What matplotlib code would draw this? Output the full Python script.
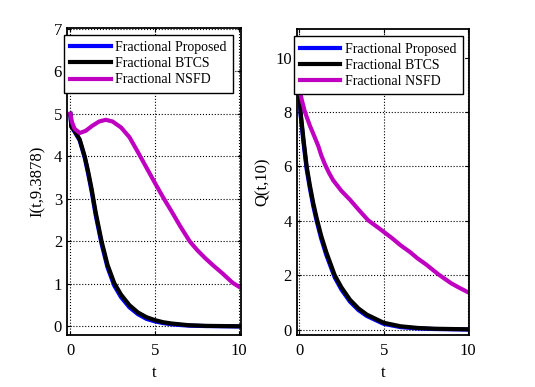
import matplotlib.pyplot as plt

# I(t, 9.3878) curves
t_I = [0, 0.06, 0.25, 0.55, 0.85, 1.05, 1.25, 1.5, 1.85, 2.2, 2.6, 3.0, 3.5,
       4.0, 4.5, 5, 5.5, 6, 7, 8, 9, 10]
I_blue = [5.0, 4.7, 4.58, 4.38, 3.97, 3.6, 3.2, 2.62, 1.94, 1.39, 0.96, 0.69,
          0.45, 0.29, 0.18, 0.12, 0.08, 0.05, 0.02, 0.01, 0.005, 0.0]
I_black = [5.0, 4.7, 4.6, 4.4, 4.0, 3.65, 3.25, 2.68, 2.0, 1.45, 1.02, 0.75,
           0.5, 0.33, 0.22, 0.15, 0.1, 0.07, 0.03, 0.015, 0.01, 0.005]
t_I_nsfd = [0, 0.1, 0.25, 0.55, 0.9, 1.3, 1.7, 2.1, 2.5, 3.0, 3.5, 4.0, 4.5,
            5.0, 5.5, 6, 6.5, 7.07, 7.5, 8, 8.5, 9, 9.6, 10]
I_nsfd = [5.0, 4.8, 4.65, 4.55, 4.6, 4.72, 4.82, 4.86, 4.82, 4.68, 4.45, 4.1,
          3.74, 3.38, 3.03, 2.7, 2.36, 2.0, 1.8, 1.6, 1.42, 1.25, 1.03, 0.93]

# Q(t, 10) curves
t_Q = [0, 0.08, 0.25, 0.44, 0.63, 0.83, 1.03, 1.3, 1.6, 2.1, 2.5, 3.0, 3.5,
       4, 5, 6, 7, 8, 9, 10]
Q_blue = [9.0, 7.9, 6.9, 5.9, 5.2, 4.55, 4.0, 3.35, 2.75, 1.92, 1.47, 1.03,
          0.72, 0.5, 0.21, 0.09, 0.04, 0.02, 0.01, 0.0]
Q_black = [9.0, 8.0, 7.0, 6.0, 5.3, 4.65, 4.1, 3.45, 2.85, 2.0, 1.55, 1.1,
           0.78, 0.55, 0.25, 0.12, 0.06, 0.03, 0.02, 0.01]
t_Q_nsfd = [0, 0.15, 0.34, 0.63, 0.9, 1.13, 1.3, 1.52, 1.75, 2.0, 2.5, 3.0,
            3.5, 4.08, 4.78, 5.5, 6.0, 6.56, 7.0, 7.5, 8.24, 9.0, 9.5, 10]
Q_nsfd = [8.9, 8.45, 8.0, 7.5, 7.1, 6.75, 6.42, 6.08, 5.78, 5.5, 5.1, 4.78,
          4.42, 4.02, 3.7, 3.36, 3.1, 2.85, 2.62, 2.4, 2.03, 1.7, 1.53, 1.37]

labels = ['Fractional Proposed', 'Fractional BTCS', 'Fractional NSFD']
colors = ['#0000ff', 'black', '#c000c0']

plt.rcParams['font.family'] = ['Liberation Serif', 'DejaVu Serif']

fig = plt.figure(figsize=(5.35, 3.87), dpi=100)
ax1 = fig.add_axes([0.1252, 0.1344, 0.3252, 0.7933])
ax2 = fig.add_axes([0.5546, 0.1344, 0.322, 0.7900])


def style(ax, xlim, ylim, yticks, ylabel, ypad):
    ax.set_xlim(*xlim)
    ax.set_ylim(*ylim)
    ax.set_xticks([0, 5, 10])
    ax.set_yticks(yticks)
    ax.grid(True, color='black', linestyle=':', linewidth=0.8)
    ax.tick_params(direction='in', top=True, right=True, labelsize=12,
                   length=3, width=0.8)
    ax.tick_params(axis='x', pad=6)
    for s in ax.spines.values():
        s.set_linewidth(1.3)
    ax.set_xlabel('t', fontsize=12, labelpad=4)
    ax.set_ylabel(ylabel, fontsize=12, labelpad=ypad)
    leg = ax.legend(labels, loc='upper left', bbox_to_anchor=(-0.017, 0.977),
                    borderaxespad=0, fontsize=10, fancybox=False,
                    framealpha=1, edgecolor='black', handlelength=2.9,
                    handletextpad=0.35, borderpad=0.45, labelspacing=0.22)
    leg.get_frame().set_linewidth(1.0)


ax1.plot(t_I, I_blue, color=colors[0], lw=3)
ax1.plot(t_I, I_black, color=colors[1], lw=3)
ax1.plot(t_I_nsfd, I_nsfd, color=colors[2], lw=3)
style(ax1, (-0.2, 10.1), (-0.2, 7.02), range(0, 8), 'I(t,9.3878)', 6)

ax2.plot(t_Q, Q_blue, color=colors[0], lw=3)
ax2.plot(t_Q, Q_black, color=colors[1], lw=3)
ax2.plot(t_Q_nsfd, Q_nsfd, color=colors[2], lw=3)
style(ax2, (-0.15, 10.05), (-0.2, 11.05), range(0, 11, 2), 'Q(t,10)', 3)

fig.savefig('out.png', dpi=100)
